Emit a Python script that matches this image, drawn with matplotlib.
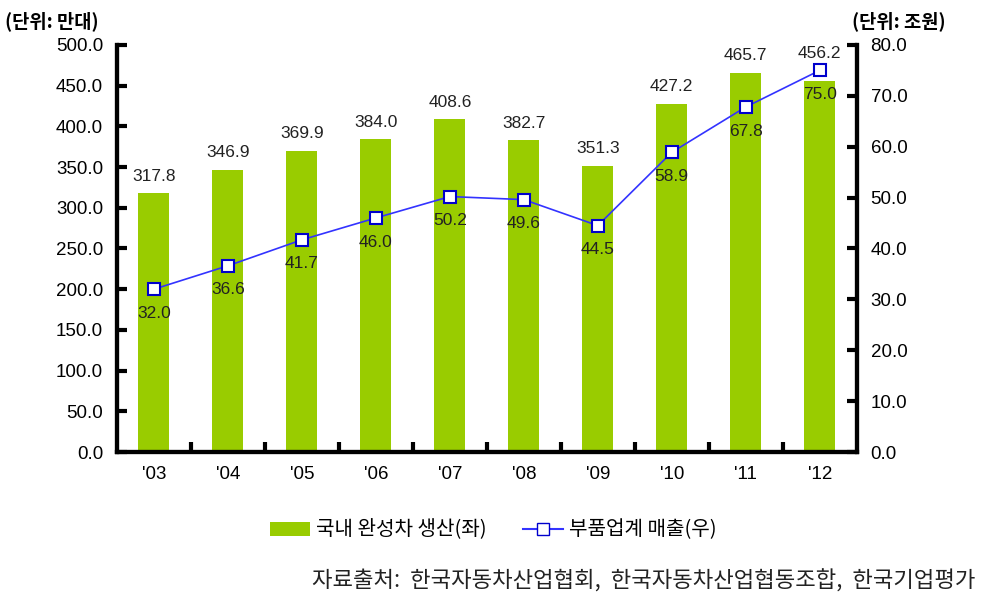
import matplotlib
matplotlib.use('Agg')
import matplotlib.pyplot as plt
from matplotlib.lines import Line2D
from matplotlib.patches import Patch

plt.rcParams['font.family'] = ['Noto Sans CJK KR', 'DejaVu Sans']

years = ["'03", "'04", "'05", "'06", "'07", "'08", "'09", "'10", "'11", "'12"]
production = [317.8, 346.9, 369.9, 384.0, 408.6, 382.7, 351.3, 427.2, 465.7, 456.2]
sales = [32.0, 36.6, 41.7, 46.0, 50.2, 49.6, 44.5, 58.9, 67.8, 75.0]

bar_color = '#99CC00'
line_color = '#3333FF'
num_font = ['Liberation Sans', 'DejaVu Sans']

fig = plt.figure(figsize=(9.87, 5.99), dpi=100)
ax = fig.add_axes([0.1185, 0.2454, 0.7495, 0.6796])
ax2 = ax.twinx()

x = range(len(years))
ax.bar(x, production, width=0.42, color=bar_color, zorder=2)
ax2.plot(x, sales, color=line_color, linewidth=1.2, marker='s', markersize=9,
         markerfacecolor='white', markeredgecolor='#0000CC', markeredgewidth=1.5, zorder=3)

# last bar label is lifted above the line marker
for i, v in enumerate(production):
    dy = 14 if i == len(production) - 1 else 7
    ax.annotate(f'{v:.1f}', (i, v), xytext=(0, dy), textcoords='offset points',
                ha='center', va='bottom', fontsize=12.5, family=num_font, color='#222222')
for i, v in enumerate(sales):
    ax2.annotate(f'{v:.1f}', (i, v), xytext=(0, -12), textcoords='offset points',
                 ha='center', va='top', fontsize=12.5, family=num_font, color='#222222')

ax.set_xlim(-0.5, len(years) - 0.5)
ax.set_ylim(0, 500)
ax2.set_ylim(0, 80)
ax.set_yticks(range(0, 501, 50))
ax2.set_yticks(range(0, 81, 10))
ax.set_yticklabels([f'{v:.1f}' for v in range(0, 501, 50)], family=num_font, fontsize=13.5)
ax2.set_yticklabels([f'{v:.1f}' for v in range(0, 81, 10)], family=num_font, fontsize=13.5)

ax.set_xticks([i + 0.5 for i in range(len(years) - 1)], minor=False)
ax.set_xticklabels([])
ax.set_xticks(list(x), minor=True)
ax.set_xticklabels(years, minor=True, family=num_font, fontsize=13.5)
ax.tick_params(axis='x', which='major', direction='in', length=7, width=3)
ax.tick_params(axis='x', which='minor', length=0, pad=10)
ax.tick_params(axis='y', direction='in', length=7, width=3, pad=10)
ax2.tick_params(axis='y', direction='in', length=7, width=3, pad=10)

for a in (ax, ax2):
    a.spines['top'].set_visible(False)
    for s in ('left', 'right', 'bottom'):
        a.spines[s].set_linewidth(3)

fig.text(0.005, 0.965, '(단위: 만대)', fontsize=13.5, fontweight='bold', ha='left', va='center')
fig.text(0.958, 0.965, '(단위: 조원)', fontsize=13.5, fontweight='bold', ha='right', va='center')

handles = [Patch(facecolor=bar_color, edgecolor='none'),
           Line2D([0], [0], color=line_color, marker='s', markersize=8,
                  markerfacecolor='white', markeredgecolor='#0000CC')]
fig.legend(handles, ['국내 완성차 생산(좌)', '부품업계 매출(우)'], loc='center',
           bbox_to_anchor=(0.5, 0.115), ncol=2, frameon=False, fontsize=14.5,
           handlelength=2.0, handletextpad=0.3, columnspacing=1.8)

fig.text(0.988, 0.03, '자료출처:  한국자동차산업협회,  한국자동차산업협동조합,  한국기업평가',
         fontsize=16, style='italic', ha='right', va='center', color='#222222')

fig.savefig('out.png', dpi=100)
